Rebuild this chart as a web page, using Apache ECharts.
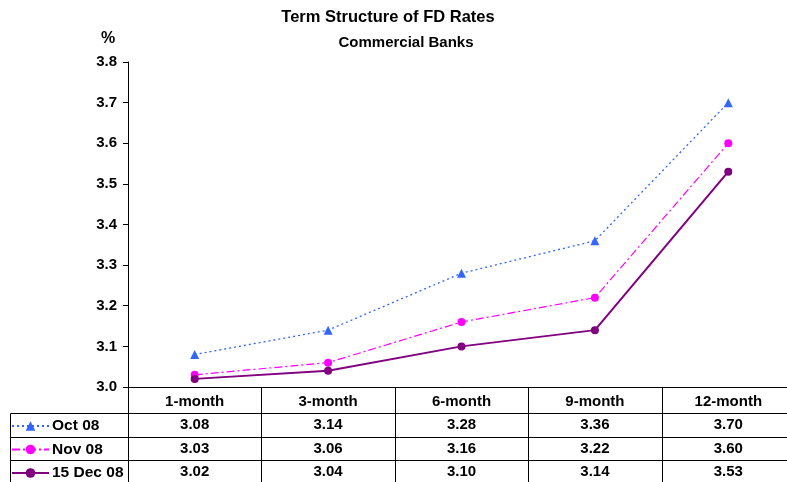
<!DOCTYPE html>
<html>
<head>
<meta charset="utf-8">
<script src="https://cdn.jsdelivr.net/npm/echarts@6/dist/echarts.min.js"></script>
<style>
  html, body { margin: 0; padding: 0; background: #fff; }
  #chart { width: 787px; height: 482px; }
</style>
</head>
<body>
<div id="chart"></div>
<script>
// Tenors and FD rates (%) for commercial banks
var tenors = ['1-month', '3-month', '6-month', '9-month', '12-month'];
var seriesNames = ['Oct 08', 'Nov 08', '15 Dec 08'];
var oct08 = [3.08, 3.14, 3.28, 3.36, 3.70];
var nov08 = [3.03, 3.06, 3.16, 3.22, 3.60];
var dec08 = [3.02, 3.04, 3.10, 3.14, 3.53];
var yTicks = { min: 3.0, max: 3.8, interval: 0.1 };

var FONT = 'Liberation Sans, Arial, sans-serif';
var rows = [oct08, nov08, dec08];

var chart = echarts.init(document.getElementById('chart'), null, { renderer: 'canvas' });

var HEADER_H = 26, ROW_H = 23.5;

// one legend per table row, placed in the row's first cell
var legends = seriesNames.map(function (name, i) {
  return {
    orient: 'horizontal',
    left: 11, top: 387 + HEADER_H + ROW_H * i + 5,
    padding: 0,
    itemWidth: 37, itemHeight: 12,
    data: [name],
    textStyle: { fontFamily: FONT, fontWeight: 'bold', fontSize: 15.5, color: '#000', padding: [0, 0, 0, -2] }
  };
});

var option = {
  backgroundColor: '#ffffff',
  animation: false,
  title: [
    { text: 'Term Structure of FD Rates', left: 388, top: 9, textAlign: 'center', padding: 0,
      textStyle: { fontFamily: FONT, fontWeight: 'bold', fontSize: 16.5, color: '#000' } },
    { text: 'Commercial Banks', left: 406, top: 35, textAlign: 'center', padding: 0,
      textStyle: { fontFamily: FONT, fontWeight: 'bold', fontSize: 15, color: '#000' } },
    { text: '%', left: 108, top: 31, textAlign: 'center', padding: 0,
      textStyle: { fontFamily: FONT, fontWeight: 'bold', fontSize: 16, color: '#000' } }
  ],
  legend: legends,
  grid: { left: 128, width: 667, top: 62, height: 325, containLabel: false, outerBoundsMode: 'none' },
  xAxis: {
    type: 'category',
    data: tenors,
    boundaryGap: true,
    axisLine: { lineStyle: { color: '#000', width: 1 } },
    axisTick: { show: false },
    axisLabel: { margin: 7, fontFamily: FONT, fontWeight: 'bold', fontSize: 15, color: '#000' }
  },
  yAxis: {
    type: 'value',
    min: yTicks.min, max: yTicks.max, interval: yTicks.interval,
    axisLine: { show: true, lineStyle: { color: '#000', width: 1 } },
    axisTick: { show: true, inside: false, length: 5, lineStyle: { color: '#000' } },
    splitLine: { show: false },
    axisLabel: { margin: 11, fontFamily: FONT, fontWeight: 'bold', fontSize: 15, color: '#000',
      formatter: function (v) { return v.toFixed(1); } }
  },
  series: [
    { name: seriesNames[0], type: 'line', data: oct08,
      symbol: 'triangle', symbolSize: 9,
      itemStyle: { color: '#3366ff' },
      lineStyle: { color: '#3366ff', width: 1.3, type: [2, 3] } },
    { name: seriesNames[1], type: 'line', data: nov08,
      symbol: 'circle', symbolSize: 8,
      itemStyle: { color: '#ff00ff' },
      lineStyle: { color: '#ff00ff', width: 1.2, type: [8, 3, 2, 3] } },
    { name: seriesNames[2], type: 'line', data: dec08,
      symbol: 'circle', symbolSize: 8,
      itemStyle: { color: '#800080' },
      lineStyle: { color: '#800080', width: 2 } }
  ]
};

chart.setOption(option);

// Data table beneath the plot: grid lines and values, aligned with the category bands
function drawTable() {
  var c0 = chart.convertToPixel({ xAxisIndex: 0 }, 0);
  var c1 = chart.convertToPixel({ xAxisIndex: 0 }, 1);
  var band = c1 - c0;
  var yBase = chart.convertToPixel({ yAxisIndex: 0 }, yTicks.min);
  var tableLeft = 10, bottom = 490;
  var right = c0 - band / 2 + band * tenors.length;
  var els = [];
  var line = function (x1, y1, x2, y2) {
    els.push({ type: 'line', shape: { x1: x1, y1: y1, x2: x2, y2: y2 },
      style: { stroke: '#000', lineWidth: 1 }, z: 10 });
  };
  // column dividers
  for (var i = 0; i <= tenors.length; i++) {
    var bx = Math.round(c0 - band / 2 + band * i) + 0.5;
    line(bx, yBase, bx, bottom);
  }
  // row separators and left border
  var y0 = Math.round(yBase + HEADER_H) + 0.5;
  for (var r = 0; r < rows.length; r++) {
    var ry = Math.round(yBase + HEADER_H + ROW_H * r) + 0.5;
    line(tableLeft + 0.5, ry, right, ry);
  }
  line(tableLeft + 0.5, y0, tableLeft + 0.5, bottom);
  // values
  for (var r2 = 0; r2 < rows.length; r2++) {
    for (var k = 0; k < tenors.length; k++) {
      var cx = chart.convertToPixel({ xAxisIndex: 0 }, k);
      els.push({ type: 'text', z: 10,
        style: { text: rows[r2][k].toFixed(2), x: cx, y: yBase + HEADER_H + ROW_H * r2 + ROW_H / 2 + 0.5,
          textAlign: 'center', textVerticalAlign: 'middle',
          font: 'bold 15px ' + FONT, fill: '#000' } });
    }
  }
  chart.setOption({ graphic: { elements: els } });
}
drawTable();
</script>
</body>
</html>
